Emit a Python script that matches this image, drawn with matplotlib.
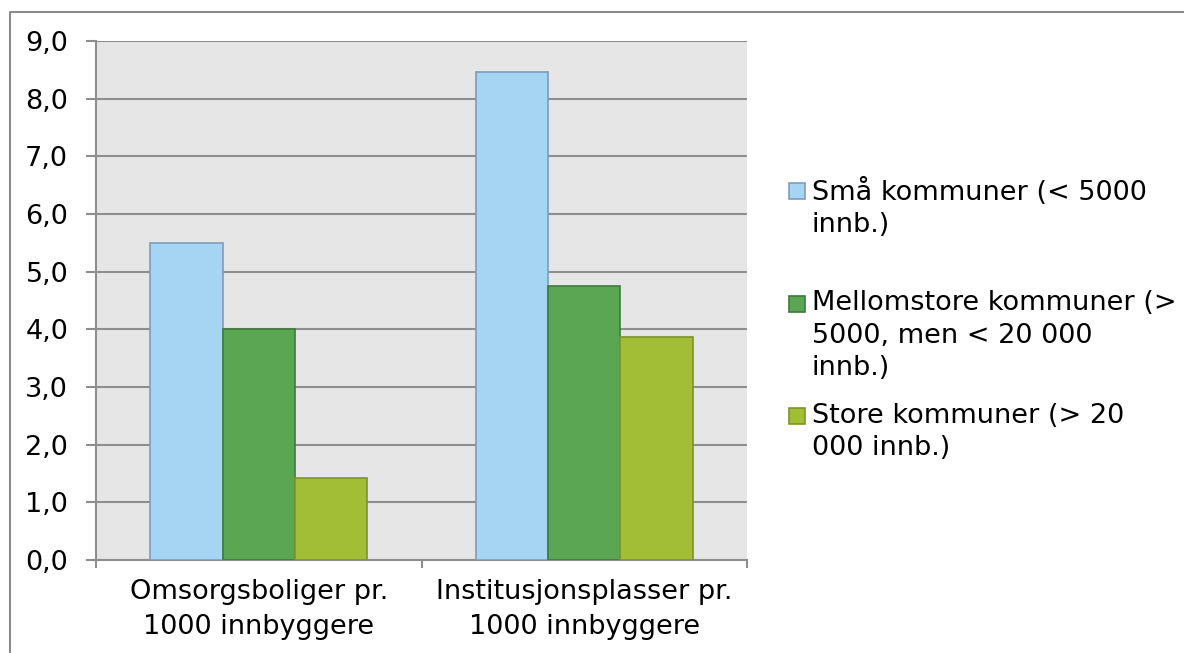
"""
Omsorgsboliger og institusjonsplasser pr. 1000 innbyggere, etter kommunestørrelse.
"""
import matplotlib
matplotlib.use("Agg")
import matplotlib.pyplot as plt
from matplotlib.lines import Line2D
from matplotlib.patches import Rectangle
import numpy as np

CATEGORIES = ["Omsorgsboliger pr.\n1000 innbyggere",
              "Institusjonsplasser pr.\n1000 innbyggere"]
SERIES     = ["Små kommuner (< 5000\ninnb.)",
              "Mellomstore kommuner (>\n5000, men < 20 000\ninnb.)",
              "Store kommuner (> 20\n000 innb.)"]
SMALL      = [5.5, 8.46]
MEDIUM     = [4.0, 4.75]
LARGE      = [1.43, 3.87]
Y_TICKS    = [0, 1, 2, 3, 4, 5, 6, 7, 8, 9]

FILLS = ["#A6D4F3", "#5BA653", "#A2BE37"]
EDGES = ["#7B9DBB", "#3F7A3A", "#7E9529"]

W, H = 1184, 653
plt.rcParams["font.family"] = ["DejaVu Sans"]
FS = 19.5

fig = plt.figure(figsize=(W / 100, H / 100), dpi=100)
ax = fig.add_axes([96 / W, (H - 560) / H, (747 - 96) / W, (560 - 41) / H])
ax.set_facecolor("#E6E6E6")

x = np.arange(len(CATEGORIES))
bw = 1 / 4.5
for i, vals in enumerate([SMALL, MEDIUM, LARGE]):
    ax.bar(x + (i - 1) * bw, vals, width=bw, color=FILLS[i],
           edgecolor=EDGES[i], linewidth=1.2, zorder=3)

ax.set_xlim(-0.5, len(CATEGORIES) - 0.5)
ax.set_ylim(0, 9)
ax.set_yticks(Y_TICKS)
ax.set_yticklabels([f"{v:.1f}".replace(".", ",") for v in Y_TICKS], fontsize=FS)
ax.grid(axis="y", color="#8E8E8E", linewidth=1.5, zorder=1)
ax.set_axisbelow(True)

ax.set_xticks(x)
ax.set_xticklabels(CATEGORIES, fontsize=FS, linespacing=1.42)
ax.set_xticks(np.arange(-0.5, len(CATEGORIES)), minor=True)
ax.tick_params(axis="x", which="major", length=0, pad=14)
ax.tick_params(axis="x", which="minor", length=6, width=1.5, color="#8E8E8E")
ax.tick_params(axis="y", length=7, width=1.5, color="#8E8E8E", pad=13)

for s in ["top", "right"]:
    ax.spines[s].set_visible(False)
for s in ["left", "bottom"]:
    ax.spines[s].set_color("#8E8E8E")
    ax.spines[s].set_linewidth(1.5)

# legend drawn by hand so entries sit at an even pitch, as in the original
for i, name in enumerate(SERIES):
    ytop = 182 + 112.5 * i
    fig.patches.append(Rectangle((789 / W, 1 - (ytop + 17) / H), 16 / W, 16 / H,
                                 transform=fig.transFigure, facecolor=FILLS[i],
                                 edgecolor=EDGES[i], linewidth=1.2))
    fig.text(812 / W, 1 - (ytop - 4) / H, name, fontsize=FS, va="top",
             ha="left", linespacing=1.32)

# outer chart frame (only left and top visible in the crop)
fig.add_artist(Line2D([10 / W, 10 / W, 1.0], [0.0, 1 - 12 / H, 1 - 12 / H],
                      transform=fig.transFigure, color="#8C8C8C", linewidth=1.5))

fig.savefig("out.png", dpi=100)
